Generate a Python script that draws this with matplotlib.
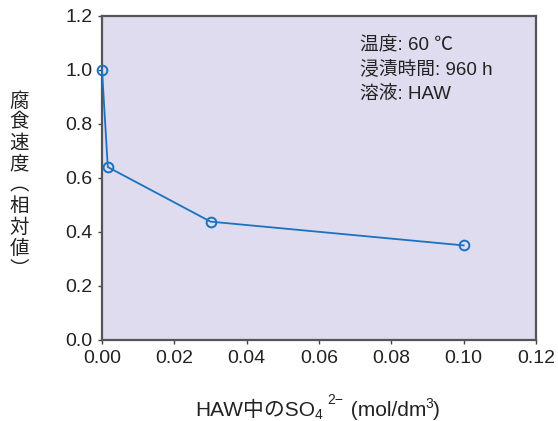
import matplotlib
matplotlib.use("Agg")
import matplotlib.pyplot as plt
from matplotlib.transforms import IdentityTransform

plt.rcParams['font.family'] = ['Liberation Sans', 'Noto Sans CJK JP', 'DejaVu Sans']

# SO4 concentration (mol/dm3) vs relative corrosion rate
conc = [0.0, 0.0016, 0.03, 0.1]
rate = [1.0, 0.64, 0.438, 0.35]

xticks = [0.0, 0.02, 0.04, 0.06, 0.08, 0.10, 0.12]
yticks = [0.0, 0.2, 0.4, 0.6, 0.8, 1.0, 1.2]

fig = plt.figure(figsize=(5.58, 4.21), dpi=100)
ax = fig.add_axes([0.1828, 0.1924, 0.9606 - 0.1828, 0.9627 - 0.1924])
ax.set_facecolor('#dedcee')

ax.plot(conc, rate, color='#1a72c0', lw=1.3, marker='o', ms=7,
        mfc='none', mec='#1a72c0', mew=1.4, clip_on=False, zorder=3)

ax.set_xlim(0, 0.12)
ax.set_ylim(0, 1.2)
ax.set_xticks(xticks)
ax.set_xticklabels(['%.2f' % v for v in xticks])
ax.set_yticks(yticks)
ax.set_yticklabels(['%.1f' % v for v in yticks])
ax.tick_params(direction='out', length=3, width=1, colors='#444444',
               labelcolor='#222222', labelsize=14, pad=4)

for s in ax.spines.values():
    s.set_color('#555555')
    s.set_linewidth(1.6)

ax.text(0.595, 0.935, '温度: 60 ℃\n浸漬時間: 960 h\n溶液: HAW',
        transform=ax.transAxes, ha='left', va='top', fontsize=13.5,
        color='#222222', linespacing=1.5)

fig.text(0.034, 0.560, '腐\n食\n速\n度\n︵\n相\n対\n値\n︶', ha='center', va='center',
         fontsize=14, color='#222222', linespacing=1.0,
         family=['Noto Sans CJK JP'])

# x label built piece by piece (sub/superscripts): text, size, dy, gap before
pieces = [('HAW中のSO', 15, 0, 0), ('4', 10, -3, 0), ('2−', 10, 12, 5),
          (' (mol/dm', 15, 0, 1), ('3', 10, 8, -1), (')', 15, 0, 0)]
renderer = fig.canvas.get_renderer()
x, y = 195, 5
for s, size, dy, gap in pieces:
    t = fig.text(x + gap, y + dy, s, fontsize=size, color='#222222', ha='left',
                 va='baseline', transform=IdentityTransform())
    x = t.get_window_extent(renderer).x1

fig.savefig('out.png', dpi=100)
